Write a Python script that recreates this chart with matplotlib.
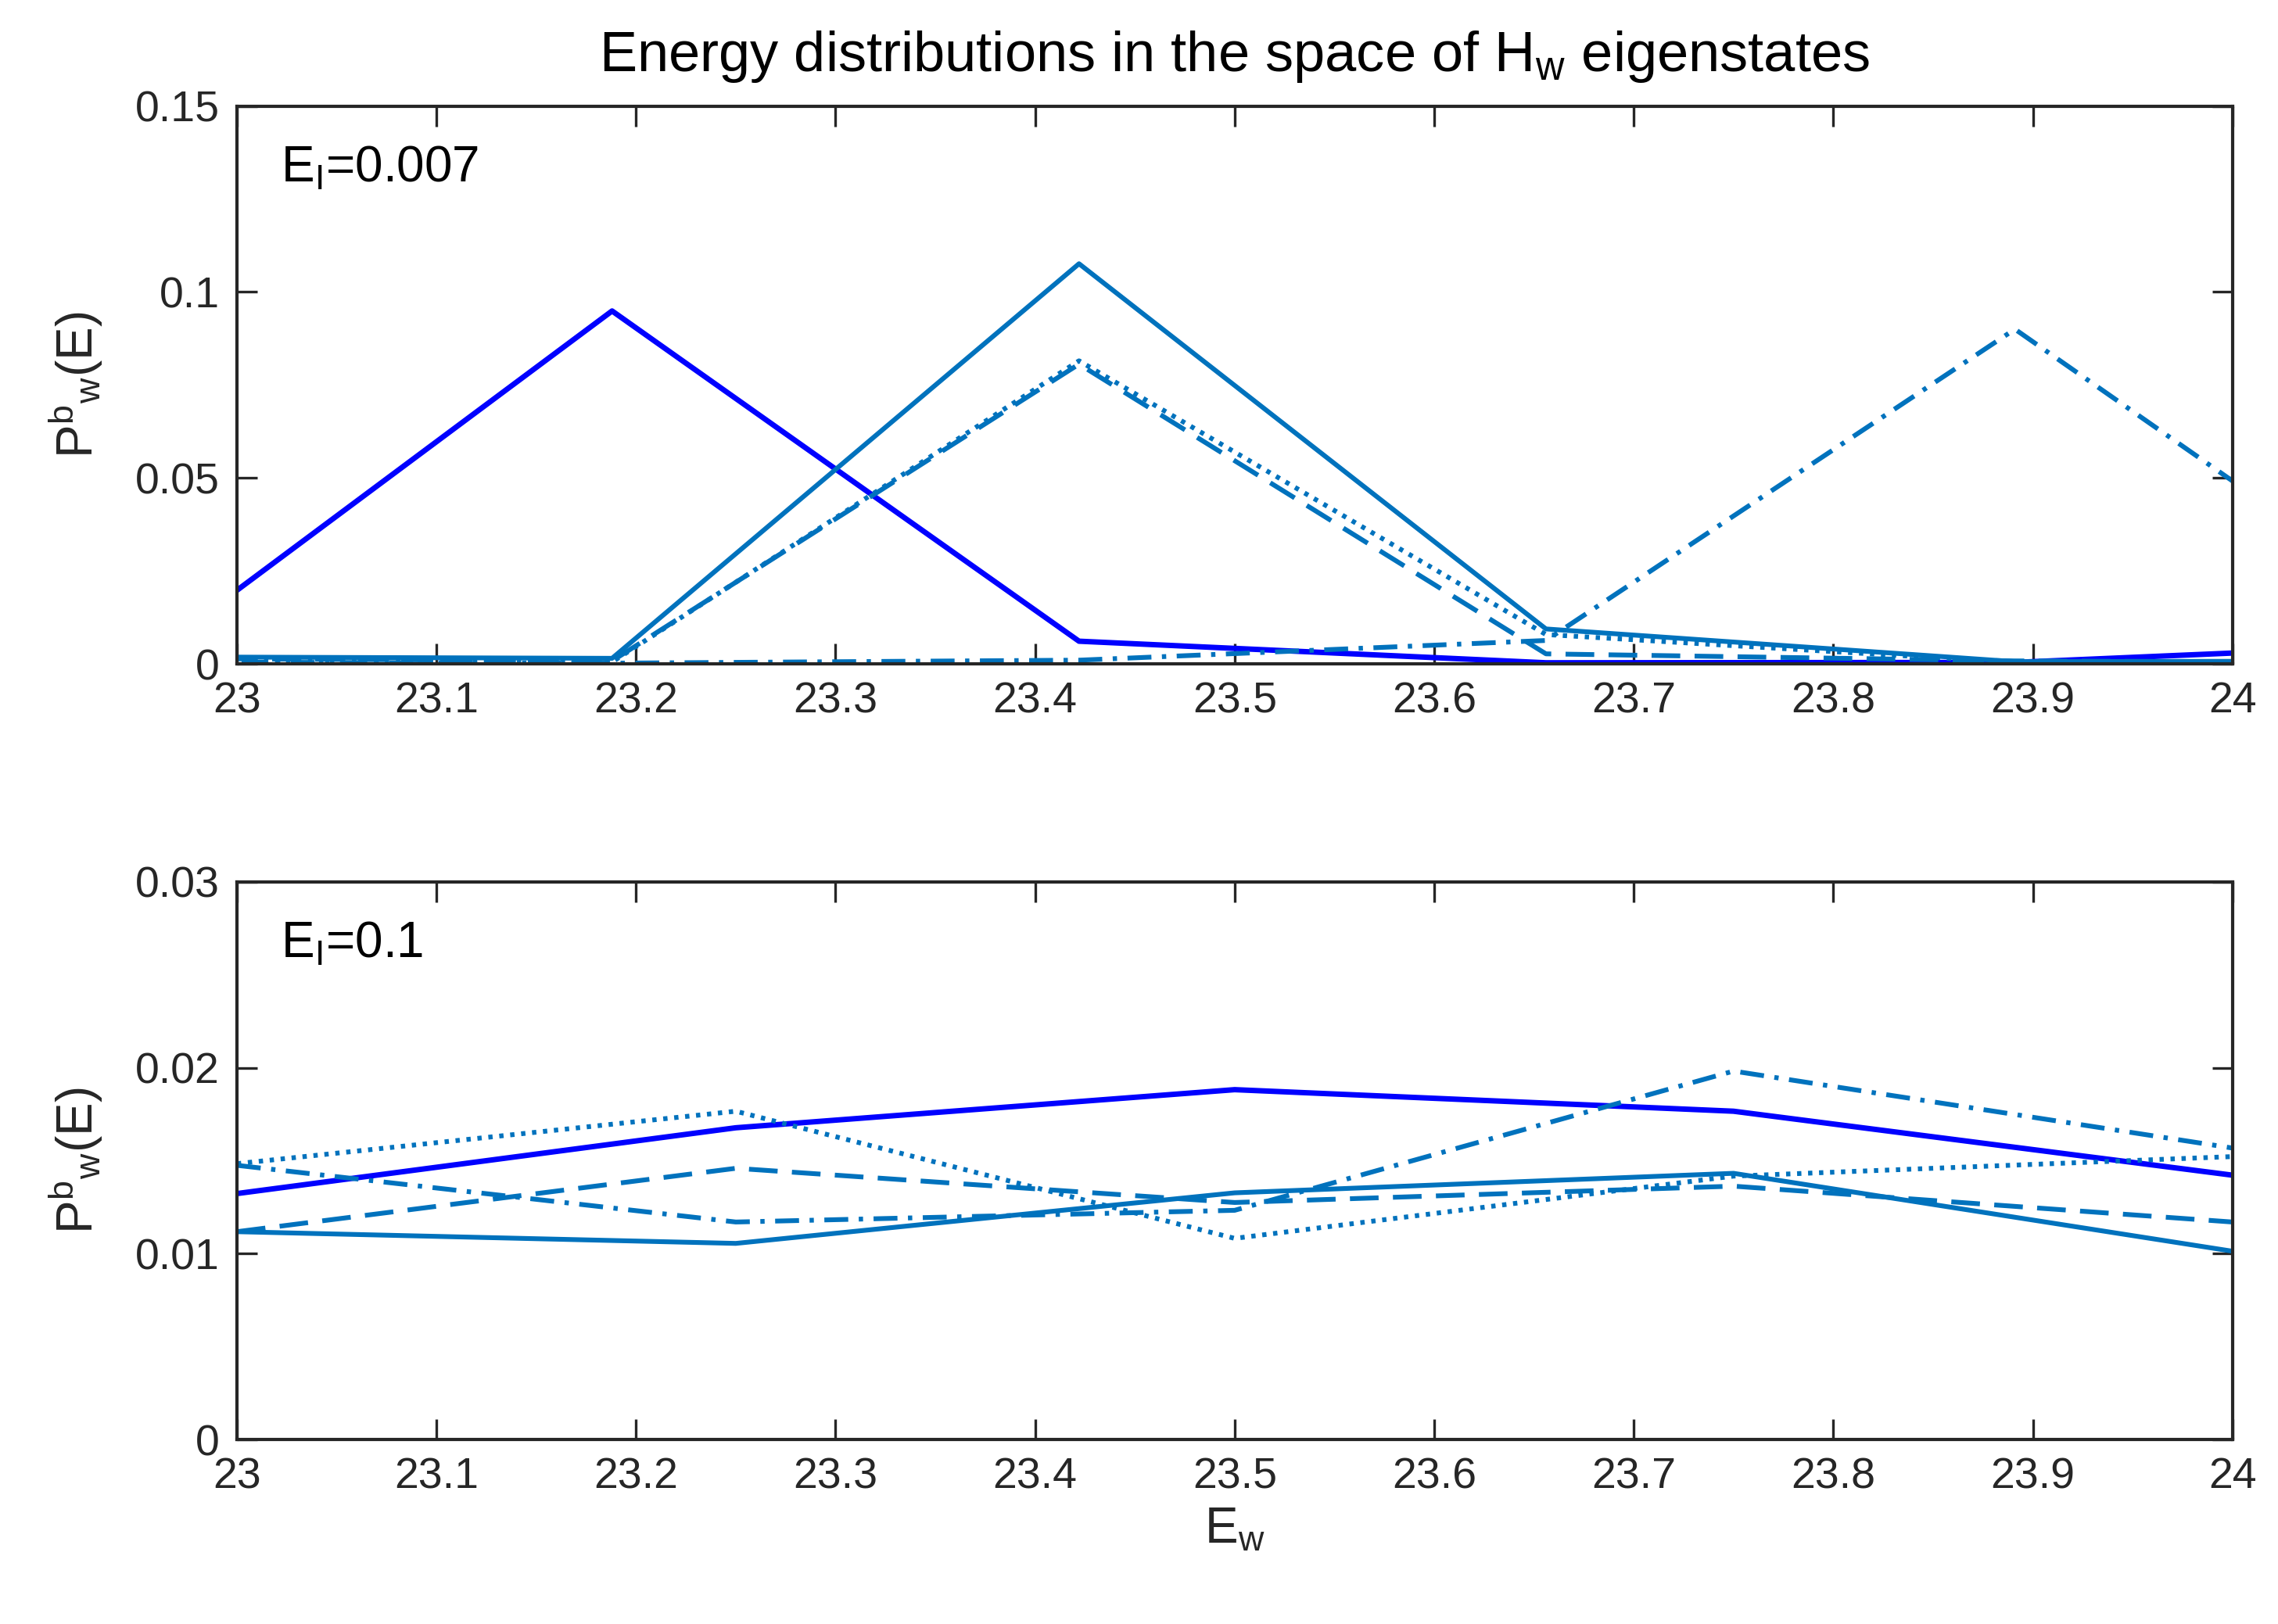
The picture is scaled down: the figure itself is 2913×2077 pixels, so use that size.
import numpy as np
import matplotlib.pyplot as plt

plt.rcParams['font.family'] = ['Liberation Sans', 'DejaVu Sans']
plt.rcParams['mathtext.default'] = 'regular'

# energies of the H_w eigenstates (top panel: E_I = 0.007)
e_top = [22.953, 23.188, 23.422, 23.656, 23.891, 24.125]
p_top_blue = [0.0010, 0.0949, 0.0061, 0.0003, 0.0004, 0.0058]
p_top_solid = [0.0019, 0.0015, 0.1076, 0.0094, 0.0006, 0.0008]
p_top_dash = [0.0015, 0.0008, 0.0806, 0.0027, 0.0008, 0.0003]
p_top_dot = [0.0012, 0.0005, 0.0815, 0.0079, 0.0004, 0.0002]
p_top_dashdot = [0.0005, 0.0002, 0.0010, 0.0063, 0.0900, 0.0024]

# bottom panel: E_I = 0.1
e_bot = [23.0, 23.25, 23.5, 23.75, 24.0]
p_bot_blue = [0.01323, 0.01677, 0.01882, 0.01766, 0.01422]
p_bot_solid = [0.01118, 0.01055, 0.01327, 0.01432, 0.01013]
p_bot_dash = [0.01118, 0.01459, 0.01275, 0.01363, 0.01170]
p_bot_dot = [0.01484, 0.01766, 0.01082, 0.01417, 0.01522]
p_bot_dashdot = [0.01475, 0.01170, 0.01233, 0.01982, 0.01568]

x_ticks = np.round(np.arange(23, 24.01, 0.1), 1)
x_ticklabels = ['23', '23.1', '23.2', '23.3', '23.4', '23.5', '23.6', '23.7', '23.8', '23.9', '24']

BLUE = '#0000FF'
MBLUE = '#0072BD'
AXC = '#262626'
FS = 20      # tick labels
FS_LAB = 23  # axis labels / annotations
FS_TIT = 26


def style_axes(ax, yticks, ylabels):
    ax.set_xlim(23, 24)
    ax.set_ylim(yticks[0], yticks[-1])
    ax.set_xticks(x_ticks)
    ax.set_xticklabels(x_ticklabels)
    ax.set_yticks(yticks)
    ax.set_yticklabels(ylabels)
    ax.tick_params(direction='in', length=9.5, width=1.2, top=True, right=True,
                   labelsize=FS, colors=AXC, pad=8)
    for s in ax.spines.values():
        s.set_linewidth(1.5)
        s.set_color(AXC)
    ax.set_ylabel('P$^b$$_w$(E)', fontsize=FS_LAB, color=AXC, labelpad=14)


def draw(ax, e, blue, solid, dash, dot, dashdot):
    ax.plot(e, blue, color=BLUE, lw=2.5, ls='-')
    ax.plot(e, solid, color=MBLUE, lw=2.2, ls='-')
    ax.plot(e, dash, color=MBLUE, lw=2.2, ls=(0, (6, 3)))
    ax.plot(e, dot, color=MBLUE, lw=2.2, ls=(0, (0.9, 1.4)))
    ax.plot(e, dashdot, color=MBLUE, lw=2.2, ls=(0, (5, 2.2, 0.9, 2.2)))


fig = plt.figure(figsize=(14.565, 10.385), dpi=200)
ax1 = fig.add_axes([0.104, 0.5912, 0.876, 0.3435])
ax2 = fig.add_axes([0.104, 0.1136, 0.876, 0.3434])

draw(ax1, e_top, p_top_blue, p_top_solid, p_top_dash, p_top_dot, p_top_dashdot)
style_axes(ax1, [0, 0.05, 0.1, 0.15], ['0', '0.05', '0.1', '0.15'])
ax1.text(0.022, 0.93, 'E$_I$=0.007', transform=ax1.transAxes, fontsize=FS_LAB, va='top')
ax1.set_title('Energy distributions in the space of H$_w$ eigenstates', fontsize=FS_TIT, pad=16)

draw(ax2, e_bot, p_bot_blue, p_bot_solid, p_bot_dash, p_bot_dot, p_bot_dashdot)
style_axes(ax2, [0, 0.01, 0.02, 0.03], ['0', '0.01', '0.02', '0.03'])
ax2.text(0.022, 0.93, 'E$_I$=0.1', transform=ax2.transAxes, fontsize=FS_LAB, va='top')
ax2.set_xlabel('E$_w$', fontsize=FS_LAB, color=AXC, labelpad=4)

plt.savefig('out.png', dpi=200)
